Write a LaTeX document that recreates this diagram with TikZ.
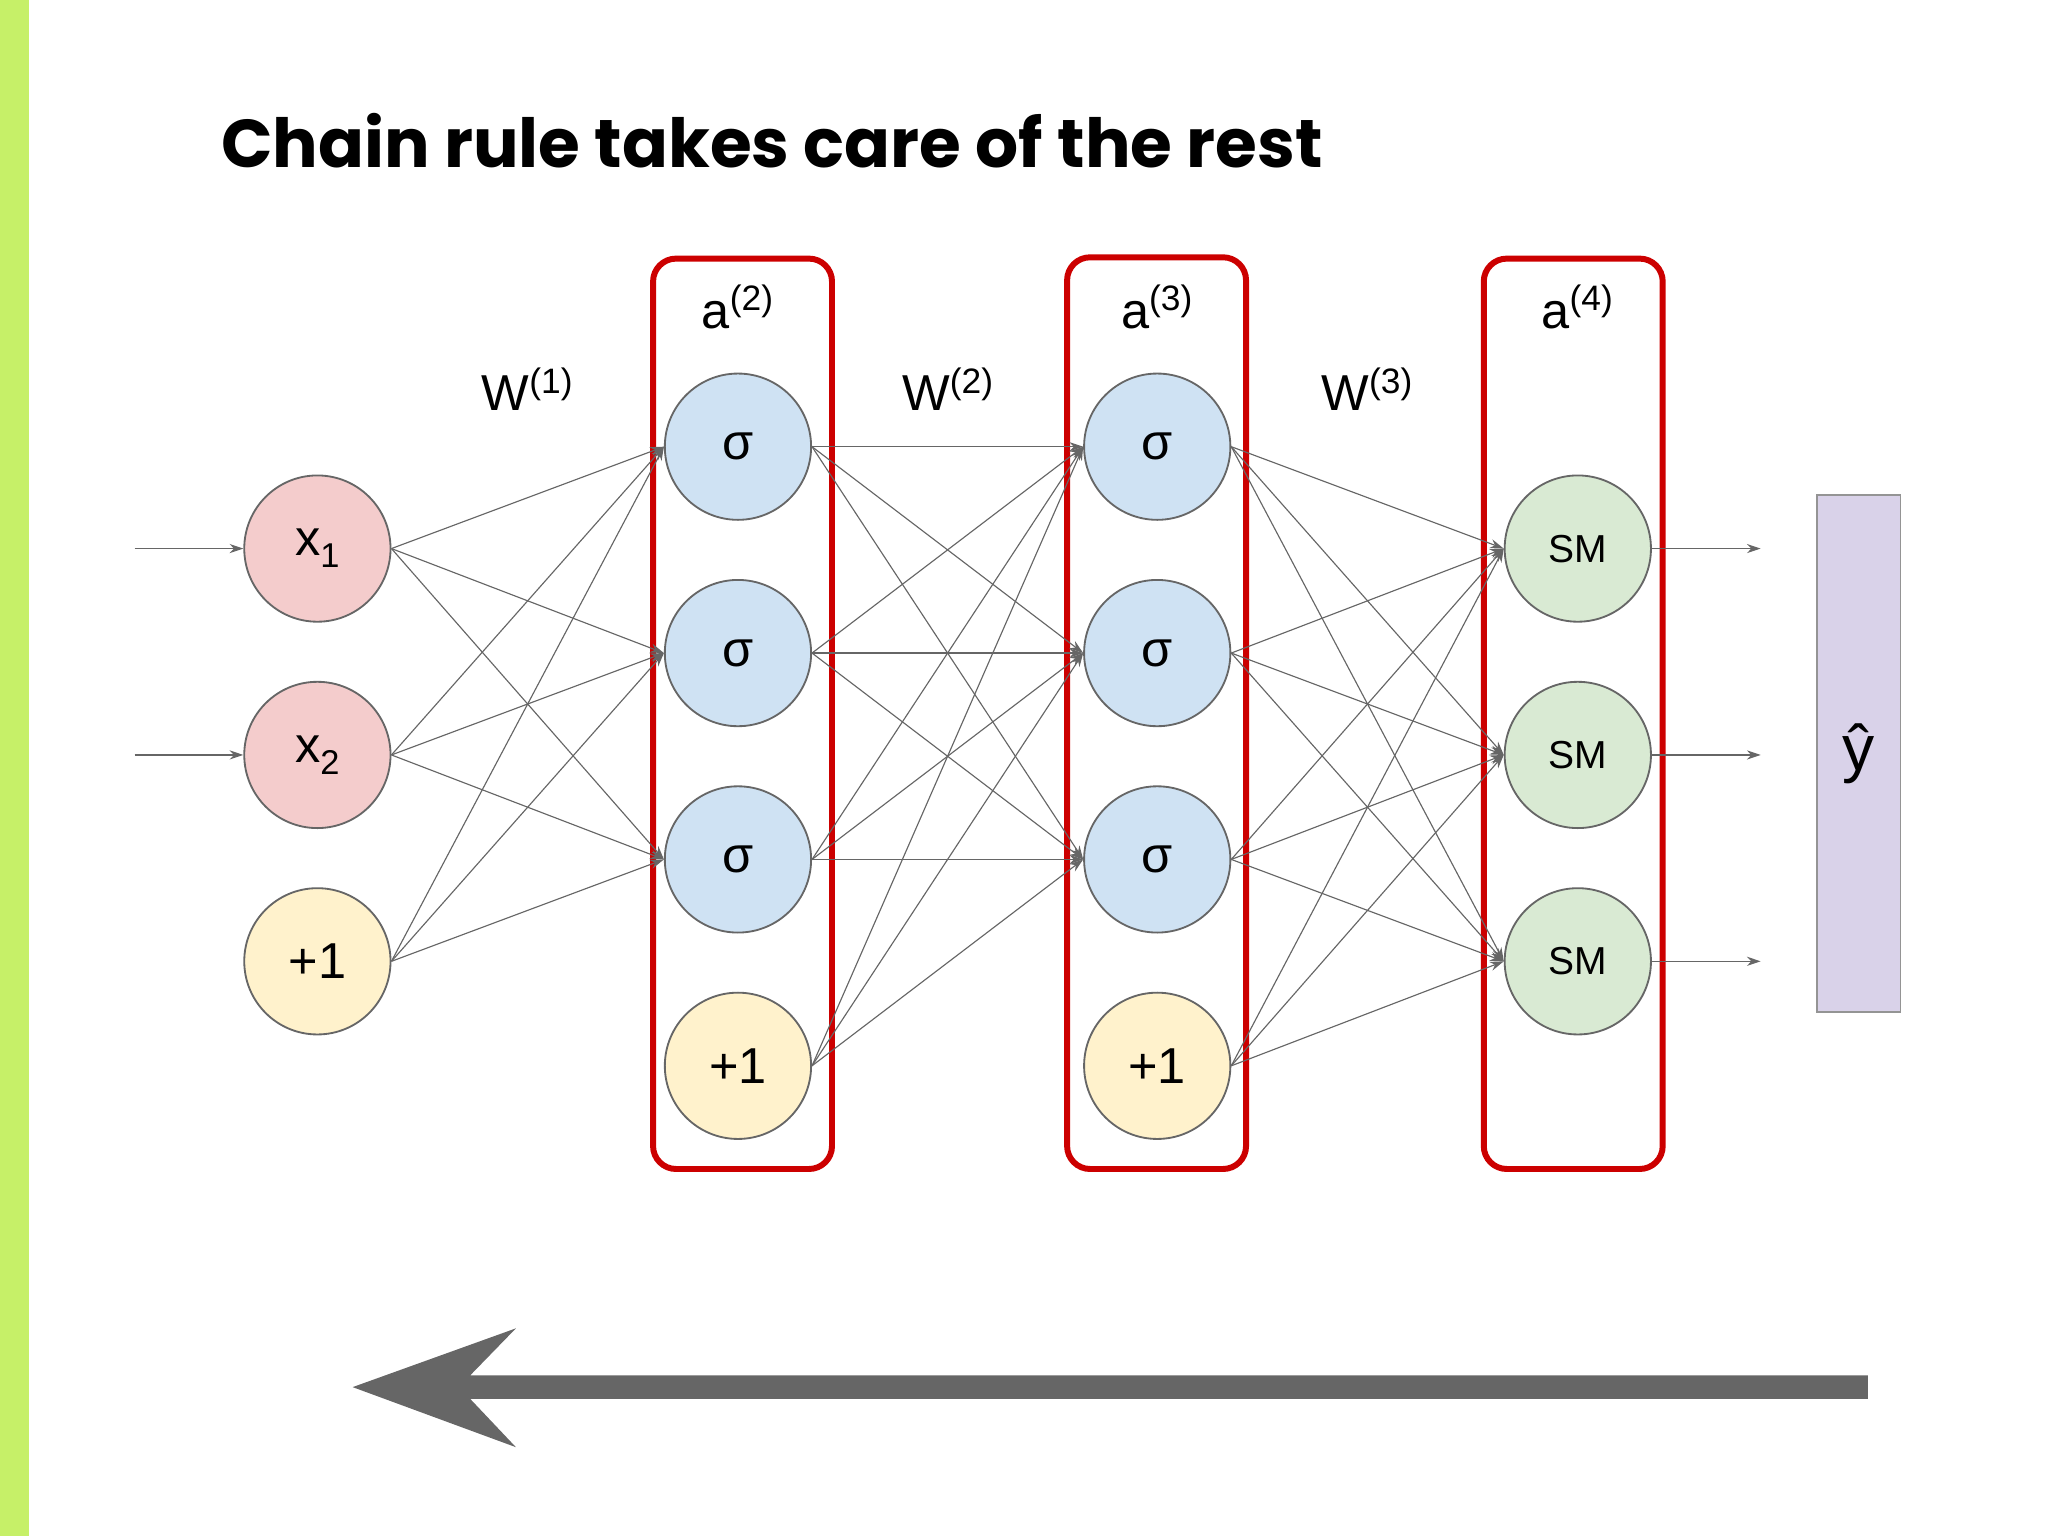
\documentclass[tikz,border=0pt]{standalone}
\usepackage{fontspec}
\setmainfont{Liberation Sans}
\newfontfamily\titlefont{Poppins}
\usetikzlibrary{arrows.meta}
\definecolor{pinkc}{HTML}{F4CCCC}
\definecolor{yelc}{HTML}{FFF2CC}
\definecolor{bluec}{HTML}{CFE2F3}
\definecolor{greenc}{HTML}{D9EAD3}
\definecolor{purc}{HTML}{D9D2E9}
\definecolor{redc}{HTML}{CC0000}
\definecolor{barc}{HTML}{C6F068}
\definecolor{grayc}{HTML}{666666}
\newcommand{\lowsub}[1]{\raisebox{-0.45ex}{\fontsize{15}{16}\selectfont #1}}
\begin{document}
\begin{tikzpicture}[x=0.02cm,y=-0.02cm,
  neu/.style={circle,draw=grayc,line width=0.8pt,minimum size=112*0.02cm,inner sep=0pt,font=\fontsize{22}{24}\selectfont},
  edge/.style={draw=grayc,line width=0.5pt,-{Stealth[length=6pt,width=4pt]}},
  box/.style={draw=redc,line width=2.6pt,rounded corners=10pt},
  lab/.style={font=\fontsize{22}{24}\selectfont}]
\useasboundingbox (0,0) rectangle (1568,1176);
\fill[barc] (0,0) rectangle (22,1176);
\node[anchor=base west,font=\titlefont\bfseries\fontsize{29.5}{32}\selectfont] (title) at (163,128) {Chain rule takes care of the rest};
% boxes
\draw[box] (500,198) rectangle (637,895);
\draw[box] (817,197) rectangle (954,895);
\draw[box] (1136,198) rectangle (1273,895);
% nodes
\node[neu,fill=pinkc] (i1) at (243,420) {x\lowsub{1}};
\node[neu,fill=pinkc] (i2) at (243,578) {x\lowsub{2}};
\node[neu,fill=yelc] (i3) at (243,736) {+1};
\foreach \y [count=\i] in {342,500,658}{
  \node[neu,fill=bluec] (b\i) at (565,\y) {σ};
  \node[neu,fill=bluec] (c\i) at (886,\y) {σ};
}
\node[neu,fill=yelc] (b4) at (565,816) {+1};
\node[neu,fill=yelc] (c4) at (886,816) {+1};
\foreach \y [count=\i] in {420,578,736}{
  \node[neu,fill=greenc,font=\fontsize{17}{18}\selectfont] (d\i) at (1208,\y) {SM};
}
% edges
\foreach \s in {1,2,3}{\foreach \t in {1,2,3}{\draw[edge] (i\s.east) -- (b\t.west);}}
\foreach \s in {1,2,3,4}{\foreach \t in {1,2,3}{\draw[edge] (b\s.east) -- (c\t.west);}}
\foreach \s in {1,2,3,4}{\foreach \t in {1,2,3}{\draw[edge] (c\s.east) -- (d\t.west);}}
% in/out arrows
\coordinate (in1) at (103,420); \coordinate (in2) at (103,578);
\draw[edge] (in1) -- (i1.west);
\draw[edge] (in2) -- (i2.west);
\foreach \i/\y in {1/420,2/578,3/736}{
  \coordinate (o\i) at (1348,\y);
  \draw[edge] (d\i.east) -- (o\i);
}
% labels
\node[lab] (a2) at (565,235) {a\textsuperscript{(2)}};
\node[lab] (a3) at (886,235) {a\textsuperscript{(3)}};
\node[lab] (a4) at (1208,235) {a\textsuperscript{(4)}};
\node[lab] (w1) at (404,298) {W\textsuperscript{(1)}};
\node[lab] (w2) at (726,298) {W\textsuperscript{(2)}};
\node[lab] (w3) at (1047,298) {W\textsuperscript{(3)}};
% y hat
\node[draw=grayc!70,fill=purc,line width=0.8pt,minimum width=64*0.02cm,minimum height=396*0.02cm,inner sep=0pt,font=\fontsize{28}{30}\selectfont] (yhat) at (1423,577) {ŷ};
% big arrow
\fill[grayc] (1430,1053) -- (360,1053) -- (395,1017) -- (270,1062) -- (395,1108) -- (360,1071) -- (1430,1071) -- cycle;
\end{tikzpicture}
\end{document}
